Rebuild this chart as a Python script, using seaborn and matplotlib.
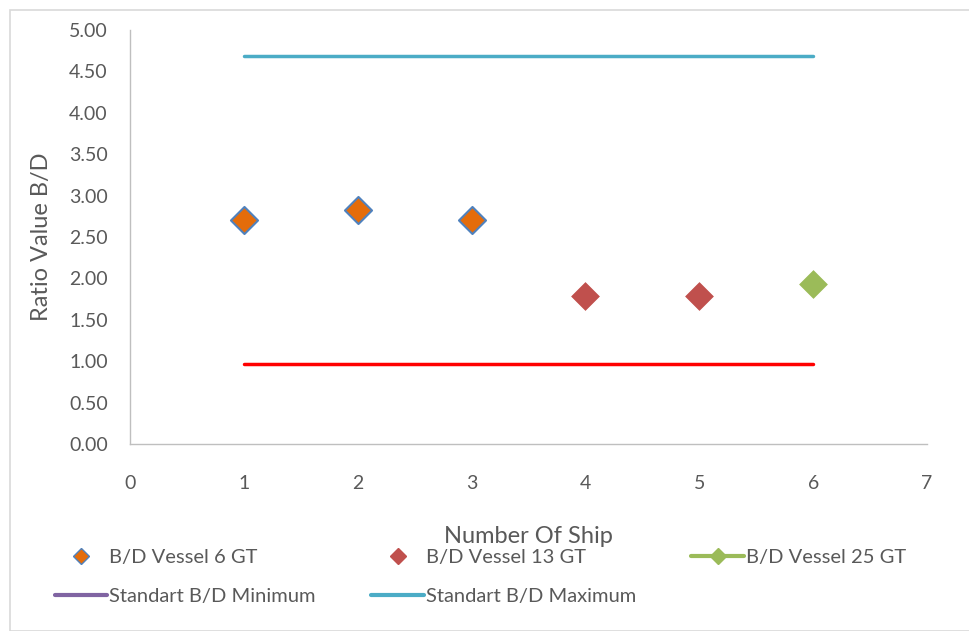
import numpy as np
import pandas as pd
import matplotlib
matplotlib.use("Agg")
import matplotlib.pyplot as plt
import seaborn as sns
from matplotlib.lines import Line2D
from matplotlib.patches import Rectangle

# data
ship_6gt = [1, 2, 3]
ratio_6gt = [2.70, 2.83, 2.70]
ship_13gt = [4, 5]
ratio_13gt = [1.79, 1.79]
ship_25gt = [6]
ratio_25gt = [1.93]
std_x = [1, 6]
std_min = [0.97, 0.97]
std_max = [4.68, 4.68]

x_ticks = [0, 1, 2, 3, 4, 5, 6, 7]
y_ticks = [0.0, 0.5, 1.0, 1.5, 2.0, 2.5, 3.0, 3.5, 4.0, 4.5, 5.0]

sns.set_style("white")
plt.rcParams['font.family'] = ['Lato', 'DejaVu Sans']

orange = "#E46C0A"
blue_edge = "#4F81BD"
red = "#C0504D"
green = "#9BBB59"
purple = "#8064A2"
teal = "#4BACC6"
text_col = "#595959"

fig = plt.figure(figsize=(9.70, 6.31), dpi=100)
ax = fig.add_axes([130 / 970, 1 - 444 / 631, (927 - 130) / 970, (444 - 30) / 631])

df_min = pd.DataFrame({"x": std_x, "y": std_min})
df_max = pd.DataFrame({"x": std_x, "y": std_max})
sns.lineplot(data=df_max, x="x", y="y", color=teal, linewidth=2.5, ax=ax)
sns.lineplot(data=df_min, x="x", y="y", color="#FF0000", linewidth=2.5, ax=ax)

sns.scatterplot(x=ship_6gt, y=ratio_6gt, marker="D", s=190, color=orange,
                edgecolor=blue_edge, linewidth=1.5, ax=ax, zorder=3)
sns.scatterplot(x=ship_13gt, y=ratio_13gt, marker="D", s=200, color=red,
                edgecolor=red, linewidth=0.5, ax=ax, zorder=3)
sns.scatterplot(x=ship_25gt, y=ratio_25gt, marker="D", s=200, color=green,
                edgecolor=green, linewidth=0.5, ax=ax, zorder=3)

ax.set_xlim(0, 7)
ax.set_ylim(0, 5)
ax.set_xticks(x_ticks)
ax.set_yticks(y_ticks)
ax.set_yticklabels([f"{v:.2f}" for v in y_ticks])
ax.tick_params(axis="both", labelsize=14, colors=text_col, length=0)
ax.tick_params(axis="y", pad=16)
ax.tick_params(axis="x", pad=22)
for s in ["top", "right"]:
    ax.spines[s].set_visible(False)
for s in ["left", "bottom"]:
    ax.spines[s].set_color("#BFBFBF")
    ax.spines[s].set_linewidth(1)

ax.set_xlabel("Number Of Ship", fontsize=17, color=text_col, labelpad=24.5)
ax.set_ylabel("Ratio Value B/D", fontsize=17, color=text_col, labelpad=12)

h_6gt = Line2D([], [], linestyle="none", marker="D", markersize=8, markerfacecolor=orange,
               markeredgecolor=blue_edge, markeredgewidth=1)
h_13gt = Line2D([], [], linestyle="none", marker="D", markersize=8, markerfacecolor=red,
                markeredgecolor=red)
h_25gt = Line2D([], [], color=green, linewidth=3, marker="D", markersize=8,
                markerfacecolor=green, markeredgecolor=green)
h_min = Line2D([], [], color=purple, linewidth=3)
h_max = Line2D([], [], color=teal, linewidth=3)
# column-major order so rows read 6 GT, 13 GT, 25 GT / Minimum, Maximum
handles = [h_6gt, h_min, h_13gt, h_max, h_25gt]
labels = ["B/D Vessel 6 GT", "Standart B/D Minimum", "B/D Vessel 13 GT",
          "Standart B/D Maximum", "B/D Vessel 25 GT"]
leg = fig.legend(handles, labels, ncol=3, loc="upper left",
                 bbox_to_anchor=(45 / 970, 1 - 539 / 631), frameon=False,
                 borderpad=0, fontsize=14.5, handlelength=2.6, handletextpad=0.1,
                 columnspacing=2.75, labelspacing=1.1)
for t in leg.get_texts():
    t.set_color(text_col)

fig.patches.append(Rectangle((10 / 970, 0), 1, 1 - 10 / 631, transform=fig.transFigure,
                             fill=False, edgecolor="#D9D9D9", linewidth=1.2))

fig.savefig("out.png", dpi=100)
